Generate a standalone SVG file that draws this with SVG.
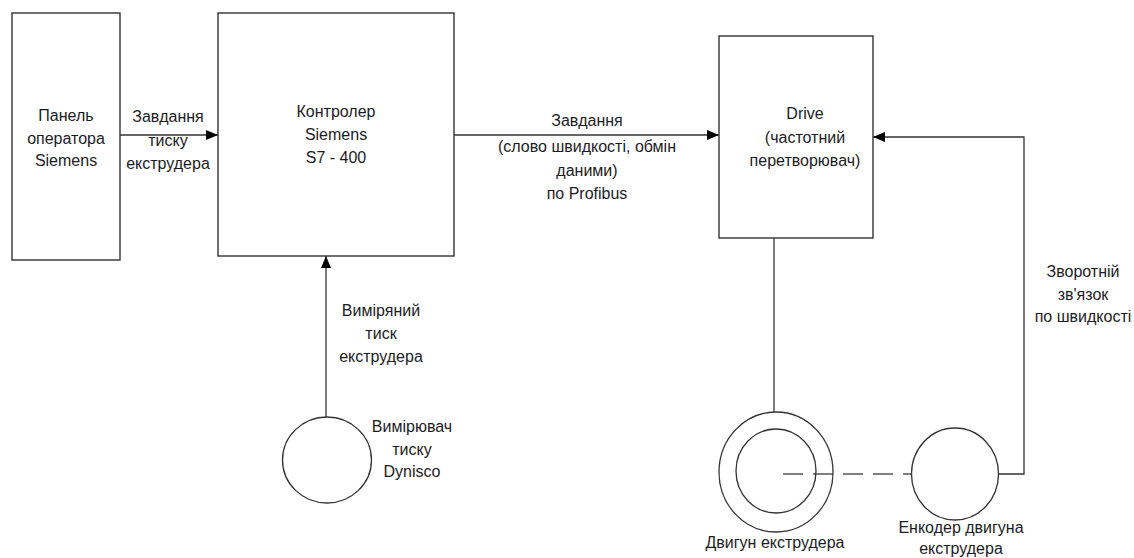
<svg xmlns="http://www.w3.org/2000/svg" width="1134" height="558" viewBox="0 0 1134 558">
<style>
.box{fill:#fff;stroke:#333;stroke-width:1.4}
.ln{fill:none;stroke:#333;stroke-width:1.3}
.dash{fill:none;stroke:#555;stroke-width:1.3;stroke-dasharray:20 10}
text{font-family:"Liberation Sans",Arial,sans-serif;font-size:16px;fill:#1c1c24;text-anchor:middle}
</style>
<defs>
<marker id="arr" viewBox="0 0 12 10" refX="12" refY="5" markerWidth="12" markerHeight="10" markerUnits="userSpaceOnUse" orient="auto">
<path d="M0,0 L12,5 L0,10 Z" fill="#000"/>
</marker>
</defs>
<rect width="1134" height="558" fill="#fff"/>
<g id="connectors">
<line class="ln" x1="120" y1="135" x2="218" y2="135" marker-end="url(#arr)"/>
<line class="ln" x1="454" y1="135" x2="719" y2="135" marker-end="url(#arr)"/>
<line class="ln" x1="326" y1="417" x2="326" y2="256" marker-end="url(#arr)"/>
<line class="ln" x1="774" y1="238" x2="774" y2="412"/>
<polyline class="ln" points="999,474 1024,474 1024,137 873,137" marker-end="url(#arr)"/>
<line class="dash" x1="783" y1="474" x2="912" y2="474"/>
<text x="168" y="122">Завдання</text>
<text x="168" y="146">тиску</text>
<text x="168" y="169">екструдера</text>
<text x="587" y="126">Завдання</text>
<text x="587" y="152">(слово швидкості, обмін</text>
<text x="587" y="176">даними)</text>
<text x="587" y="199">по Profibus</text>
<text x="381" y="316">Виміряний</text>
<text x="381" y="339">тиск</text>
<text x="381" y="362">екструдера</text>
<text x="1083" y="277">Зворотній</text>
<text x="1083" y="300">зв'язок</text>
<text x="1083" y="322">по швидкості</text>
</g>
<g id="panel">
<rect class="box" x="12" y="13" width="108" height="247"/>
<text x="66" y="121">Панель</text>
<text x="66" y="144">оператора</text>
<text x="66" y="166">Siemens</text>
</g>
<g id="controller">
<rect class="box" x="218" y="13" width="236" height="243"/>
<text x="336" y="117">Контролер</text>
<text x="336" y="140">Siemens</text>
<text x="336" y="163">S7 - 400</text>
</g>
<g id="drive">
<rect class="box" x="719" y="36" width="154" height="202"/>
<text x="805" y="119">Drive</text>
<text x="805" y="143">(частотний</text>
<text x="805" y="166">перетворювач)</text>
</g>
<g id="sensor">
<ellipse class="ln" cx="327" cy="460" rx="44.5" ry="43"/>
<text x="412" y="432">Вимірювач</text>
<text x="412" y="455">тиску</text>
<text x="412" y="477">Dynisco</text>
</g>
<g id="motor">
<ellipse class="ln" cx="776" cy="472" rx="57" ry="60"/>
<ellipse class="ln" cx="776" cy="471" rx="40" ry="42"/>
<text x="775" y="548">Двигун екструдера</text>
</g>
<g id="encoder">
<ellipse class="ln" cx="955" cy="474" rx="43.5" ry="46"/>
<text x="961" y="533">Енкодер двигуна</text>
<text x="961" y="554">екструдера</text>
</g>
</svg>
